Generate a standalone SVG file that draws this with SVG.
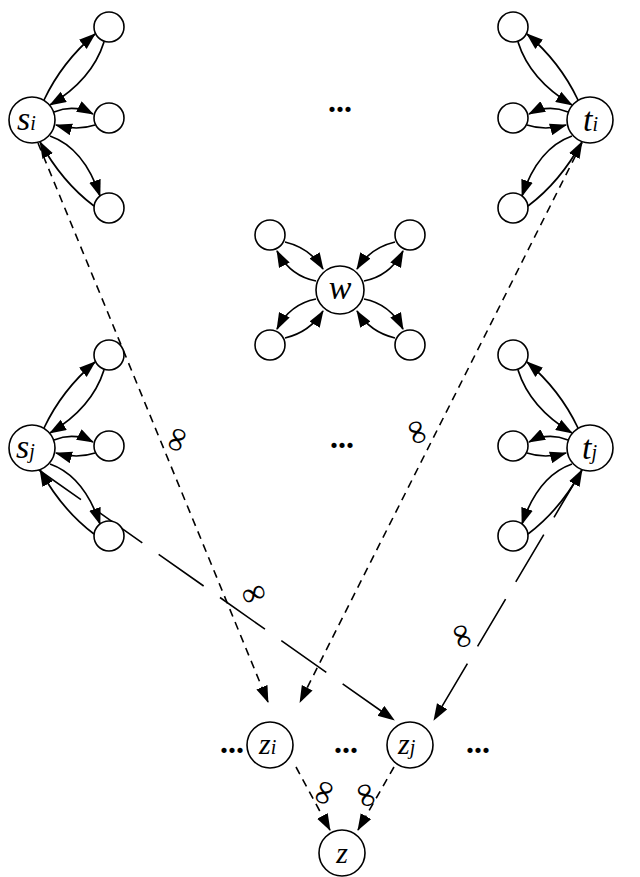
<svg xmlns="http://www.w3.org/2000/svg" width="640" height="877" viewBox="0 0 640 877">
<style>
circle{fill:#fff;stroke:#000;stroke-width:1.6}
.c{fill:none;stroke:#000;stroke-width:1.7;marker-end:url(#ah)}
.d{fill:none;stroke:#000;stroke-width:1.6;stroke-dasharray:8 6;marker-end:url(#ah)}
.ld{fill:none;stroke:#000;stroke-width:1.6;stroke-dasharray:55 20;marker-end:url(#ah)}
text{font-family:"Liberation Serif","DejaVu Serif",serif;font-style:italic;fill:#000}
.big{font-size:34px}.sub{font-size:20px}
.dots{font-style:normal;font-size:32px;font-weight:bold}
.inf{font-style:normal;font-size:34px}
</style>
<defs>
<marker id="ah" markerUnits="userSpaceOnUse" markerWidth="17" markerHeight="13" refX="16" refY="6" orient="auto"><path d="M0,0 L17,6 L0,12 z" fill="#000"/></marker>
<g id="cl">
<path class="c" d="M12,-20 Q30,-58 63,-86"/>
<path class="c" d="M72,-78 Q60,-40 18,-15"/>
<path class="c" d="M22,-8 Q42,-16 61,-6"/>
<path class="c" d="M63,5 Q45,11 24,5"/>
<path class="c" d="M18,16 Q52,28 68,76"/>
<path class="c" d="M62,86 Q30,62 8,22"/>
<circle cx="77" cy="-93" r="15"/><circle cx="77" cy="-2" r="15"/><circle cx="77" cy="88" r="15"/>
</g>
<g id="wa">
<path class="c" d="M-55,-48 Q-30,-42 -17,-21"/>
<path class="c" d="M-24,-9 Q-50,-14 -63,-39"/>
<circle cx="-70" cy="-55" r="15"/>
</g>
</defs>
<g id="connectors">
<path class="d" d="M38,143 L268,702"/>
<path class="d" d="M582,143 L300,702"/>
<path class="ld" d="M36,468 L394,720"/>
<path class="ld" d="M582,470 L434,720"/>
<path class="d" d="M296,767 L330,830"/>
<path class="d" d="M394,767 L358,830"/>
<text class="inf" transform="translate(178,440) rotate(-70)" text-anchor="middle" dy="9">∞</text>
<text class="inf" transform="translate(418,432) rotate(-110)" text-anchor="middle" dy="9">∞</text>
<text class="inf" transform="translate(254,595) rotate(-20)" text-anchor="middle" dy="9">∞</text>
<text class="inf" transform="translate(463,636) rotate(-110)" text-anchor="middle" dy="9">∞</text>
<text class="inf" transform="translate(325,793) rotate(-70)" text-anchor="middle" dy="9">∞</text>
<text class="inf" transform="translate(367,795) rotate(-110)" text-anchor="middle" dy="9">∞</text>
</g>
<g id="si"><use href="#cl" transform="translate(32,120)"/><circle cx="32" cy="120" r="23"/><text x="17" y="130" class="big">s<tspan class="sub">i</tspan></text></g>
<g id="sj"><use href="#cl" transform="translate(32,448)"/><circle cx="32" cy="448" r="23"/><text x="16" y="458" class="big">s<tspan class="sub">j</tspan></text></g>
<g id="ti"><use href="#cl" transform="translate(590,120) scale(-1,1)"/><circle cx="590" cy="120" r="23"/><text x="583" y="131" class="big">t<tspan class="sub">i</tspan></text></g>
<g id="tj"><use href="#cl" transform="translate(590,448) scale(-1,1)"/><circle cx="590" cy="448" r="23"/><text x="582" y="459" class="big">t<tspan class="sub">j</tspan></text></g>
<g id="w">
<use href="#wa" transform="translate(340,290)"/>
<use href="#wa" transform="translate(340,290) scale(-1,1)"/>
<use href="#wa" transform="translate(340,290) scale(1,-1)"/>
<use href="#wa" transform="translate(340,290) scale(-1,-1)"/>
<circle cx="340" cy="290" r="24"/><text x="340" y="299" class="big" text-anchor="middle">w</text>
</g>
<g id="zi"><circle cx="270" cy="745" r="23"/><text x="259" y="754" style="font-size:30px">z<tspan class="sub">i</tspan></text></g>
<g id="zj"><circle cx="410" cy="745" r="23"/><text x="398" y="754" style="font-size:30px">z<tspan class="sub">j</tspan></text></g>
<g id="z"><circle cx="342" cy="853" r="23"/><text x="342" y="863" style="font-size:30px" text-anchor="middle">z</text></g>
<g id="dots">
<text class="dots" x="340" y="112" text-anchor="middle">...</text>
<text class="dots" x="342" y="448" text-anchor="middle">...</text>
<text class="dots" x="232" y="753" text-anchor="middle">...</text>
<text class="dots" x="346" y="753" text-anchor="middle">...</text>
<text class="dots" x="478" y="753" text-anchor="middle">...</text>
</g>
</svg>
